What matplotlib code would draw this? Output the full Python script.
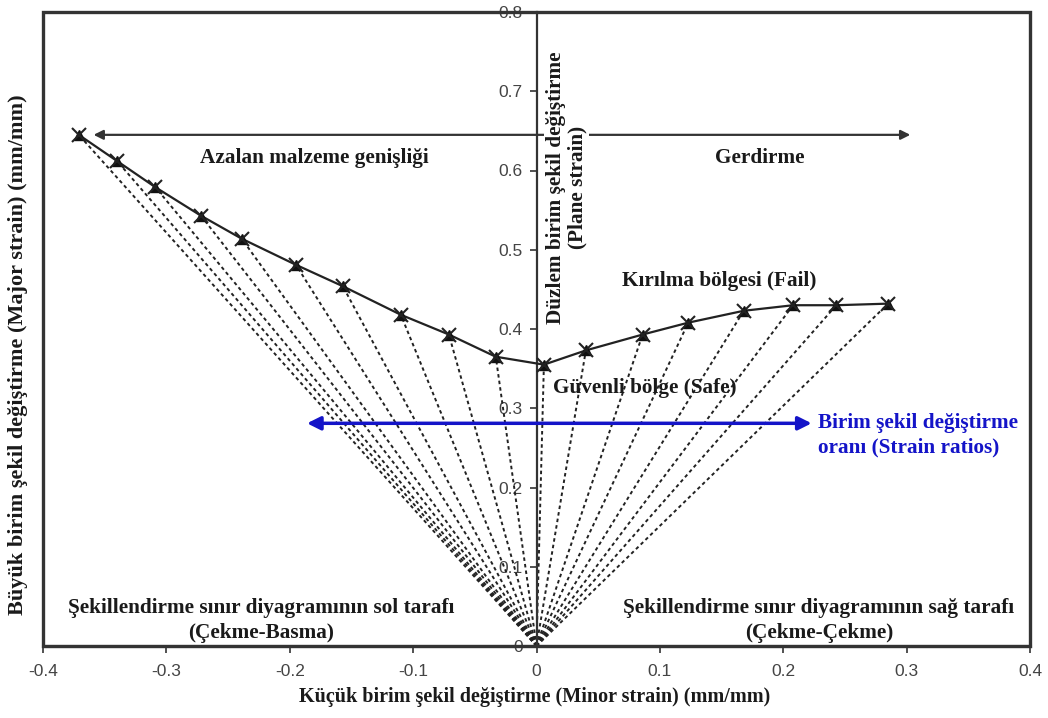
import matplotlib
matplotlib.use("Agg")
import matplotlib.pyplot as plt
from matplotlib.patches import Rectangle
from matplotlib.ticker import FuncFormatter

plt.rcParams['axes.unicode_minus'] = False

# Forming limit curve points (minor strain, major strain)
minor_strain = [-0.371, -0.340, -0.309, -0.272, -0.239, -0.195, -0.157, -0.110,
                -0.071, -0.033, 0.006, 0.040, 0.086, 0.123, 0.168, 0.208, 0.243, 0.285]
major_strain = [0.645, 0.612, 0.579, 0.543, 0.514, 0.481, 0.454, 0.418,
                0.393, 0.365, 0.355, 0.373, 0.393, 0.408, 0.423, 0.430, 0.430, 0.432]

x_ticks = [-0.4, -0.3, -0.2, -0.1, 0, 0.1, 0.2, 0.3, 0.4]
y_ticks = [0, 0.1, 0.2, 0.3, 0.4, 0.5, 0.6, 0.7, 0.8]

serif = ['Liberation Serif', 'DejaVu Serif']
sans = ['Liberation Sans', 'DejaVu Sans']

fig = plt.figure(figsize=(10.48, 7.18), dpi=100)
ax = fig.add_axes([43/1048, 1 - 646/718, 987/1048, (646 - 12)/718])

ax.set_xlim(-0.4, 0.4)
ax.set_ylim(0, 0.8)

# dashed strain paths from origin
for xv, yv in zip(minor_strain, major_strain):
    ax.plot([0, xv], [0, yv], color='#222222', lw=1.4, linestyle=(0, (1.8, 1.6)), zorder=2)

# limit curve
ax.plot(minor_strain, major_strain, color='#222222', lw=1.6, zorder=3)
ax.plot(minor_strain, major_strain, linestyle='none', marker='^', ms=7,
        color='#111111', zorder=4)
ax.plot(minor_strain, major_strain, linestyle='none', marker='x', ms=10, mew=1.5,
        color='#222222', zorder=5)

# spines: y axis at x=0, frame around
for s in ['top', 'right']:
    ax.spines[s].set_visible(False)
ax.spines['left'].set_position(('data', 0))
ax.spines['left'].set_color('#333333')
ax.spines['left'].set_linewidth(1.6)
ax.spines['bottom'].set_color('#333333')
ax.spines['bottom'].set_linewidth(2.2)
ax.add_patch(Rectangle((0, 0), 1, 1, transform=ax.transAxes, fill=False,
                       lw=2.4, edgecolor='#333333', zorder=6, clip_on=False))

ax.set_xticks(x_ticks)
ax.set_yticks(y_ticks)
fmt = FuncFormatter(lambda v, p: '0' if abs(v) < 1e-9 else ('%.1f' % v))
ax.xaxis.set_major_formatter(fmt)
ax.yaxis.set_major_formatter(fmt)
ax.tick_params(axis='x', direction='out', length=5, width=1.2, color='#333333',
               labelsize=12.5, labelcolor='#444444', pad=8)
ax.tick_params(axis='y', direction='out', length=5, width=1.2, color='#333333',
               labelsize=12.5, labelcolor='#444444', pad=5)
for lab in ax.get_xticklabels() + ax.get_yticklabels():
    lab.set_family(sans)

# black arrows at top
ax.annotate('', xy=(-0.359, 0.645), xytext=(0.303, 0.645),
            arrowprops=dict(arrowstyle='<|-|>', color='#333333', lw=1.6,
                            mutation_scale=14, shrinkA=0, shrinkB=0), zorder=3)
# blue strain ratio arrow
ax.annotate('', xy=(-0.186, 0.281), xytext=(0.223, 0.281),
            arrowprops=dict(arrowstyle='<|-|>', color='#1414c8', lw=2.5,
                            mutation_scale=20, shrinkA=0, shrinkB=0), zorder=7)

tk = dict(family=serif, fontweight='bold', fontsize=15.3, color='#1a1a1a')
ax.text(-0.180, 0.616, 'Azalan malzeme genişliği', ha='center', va='center', **tk)
ax.text(0.181, 0.616, 'Gerdirme', ha='center', va='center', **tk)
ax.text(0.148, 0.460, 'Kırılma bölgesi (Fail)', ha='center', va='center', **tk)
ax.text(0.088, 0.325, 'Güvenli bölge (Safe)', ha='center', va='center', **tk)
ax.text(-0.223, 0.032, 'Şekillendirme sınır diyagramının sol tarafı\n(Çekme-Basma)',
        ha='center', va='center', multialignment='center', linespacing=1.3, **tk)
ax.text(0.229, 0.032, 'Şekillendirme sınır diyagramının sağ tarafı\n(Çekme-Çekme)',
        ha='center', va='center', multialignment='center', linespacing=1.3, **tk)
ax.text(0.228, 0.266, 'Birim şekil değiştirme\noranı (Strain ratios)',
        ha='left', va='center', multialignment='left', linespacing=1.25,
        family=serif, fontweight='bold', fontsize=15.3, color='#1414c8')
ax.text(0.0245, 0.578, 'Düzlem birim şekil değiştirme\n(Plane strain)', rotation=90,
        ha='center', va='center', multialignment='center', linespacing=1.15,
        bbox=dict(facecolor='white', edgecolor='none', pad=1), zorder=8, **tk)

fig.text(535/1048, 1 - 697/718, 'Küçük birim şekil değiştirme (Minor strain) (mm/mm)',
         ha='center', va='center', family=serif, fontweight='bold', fontsize=14.5,
         color='#1a1a1a')
fig.text(18/1048, 1 - 355/718, 'Büyük birim şekil değiştirme (Major strain) (mm/mm)',
         ha='center', va='center', rotation=90, family=serif, fontweight='bold',
         fontsize=16, color='#1a1a1a')

fig.savefig('out.png', dpi=100, facecolor='white')
